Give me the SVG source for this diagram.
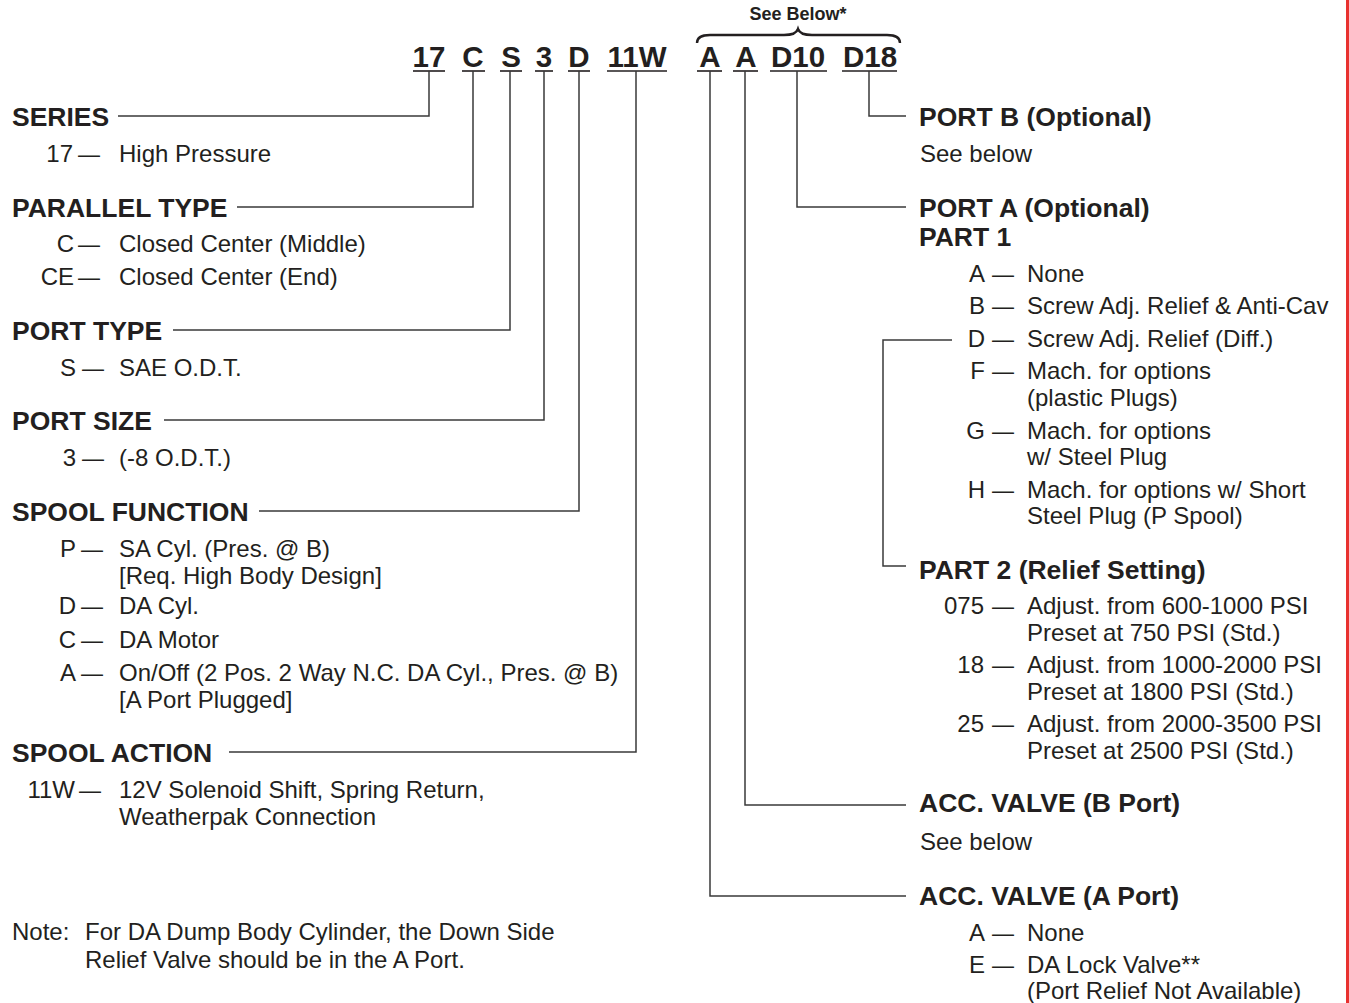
<svg xmlns="http://www.w3.org/2000/svg" width="1349" height="1003" viewBox="0 0 1349 1003">
<style>
text{font-family:"Liberation Sans",Arial,Helvetica,sans-serif;fill:#231f20}
.code{font-size:29.5px;font-weight:bold;text-anchor:middle}
.h{font-size:26.5px;font-weight:bold}
.b{font-size:24px}
.k{font-size:24px;text-anchor:end}
.d{font-size:22px;text-anchor:end}
.sb{font-size:18px;font-weight:bold;text-anchor:middle}
.ln{fill:none;stroke:#3a3a3a;stroke-width:1.5}
.ul{stroke:#231f20;stroke-width:1.6}
</style>
<rect width="1349" height="1003" fill="#fff"/>
<rect x="1346" y="0" width="3" height="1003" fill="#e8312f"/>
<g id="header">
<text class="sb" x="798" y="20">See Below*</text>
<path d="M697,43 Q697,35 710,35 L784,35 Q796,35 798,29 Q800,35 812,35 L887,35 Q900,35 900,43" fill="none" stroke="#231f20" stroke-width="2.4"/>
<text class="code" x="429" y="67">17</text>
<text class="code" x="473" y="67">C</text>
<text class="code" x="511" y="67">S</text>
<text class="code" x="544" y="67">3</text>
<text class="code" x="579" y="67">D</text>
<text class="code" x="637" y="67">11W</text>
<text class="code" x="710" y="67">A</text>
<text class="code" x="746" y="67">A</text>
<text class="code" x="798" y="67">D10</text>
<text class="code" x="870" y="67">D18</text>
<g class="ul">
<line x1="413" y1="71" x2="445" y2="71"/>
<line x1="462" y1="71" x2="485" y2="71"/>
<line x1="500" y1="71" x2="522" y2="71"/>
<line x1="535" y1="71" x2="553" y2="71"/>
<line x1="568" y1="71" x2="590" y2="71"/>
<line x1="607" y1="71" x2="667" y2="71"/>
<line x1="697" y1="71" x2="722" y2="71"/>
<line x1="733" y1="71" x2="758" y2="71"/>
<line x1="770" y1="71" x2="827" y2="71"/>
<line x1="842" y1="71" x2="897" y2="71"/>
</g>
</g>
<g id="connectors">
<polyline class="ln" points="429,71 429,116 118,116"/>
<polyline class="ln" points="473,71 473,207 237,207"/>
<polyline class="ln" points="510,71 510,330 173,330"/>
<polyline class="ln" points="544,71 544,420 164,420"/>
<polyline class="ln" points="579,71 579,511 259,511"/>
<polyline class="ln" points="636,71 636,752 229,752"/>
<polyline class="ln" points="869,71 869,116 906,116"/>
<polyline class="ln" points="797,71 797,207 906,207"/>
<polyline class="ln" points="745,71 745,805 906,805"/>
<polyline class="ln" points="710,71 710,896 906,896"/>
<polyline class="ln" points="952,340 883,340 883,566 906,566"/>
</g>
<g id="series">
<text class="h" x="12" y="126">SERIES</text>
<text class="k" x="73" y="162">17</text><text class="d" x="100" y="162">—</text><text class="b" x="119" y="162">High Pressure</text>
</g>
<g id="parallel-type">
<text class="h" x="12" y="217">PARALLEL TYPE</text>
<text class="k" x="74" y="252">C</text><text class="d" x="100" y="252">—</text><text class="b" x="119" y="252">Closed Center (Middle)</text>
<text class="k" x="74" y="285">CE</text><text class="d" x="100" y="285">—</text><text class="b" x="119" y="285">Closed Center (End)</text>
</g>
<g id="port-type">
<text class="h" x="12" y="340">PORT TYPE</text>
<text class="k" x="76" y="376">S</text><text class="d" x="104" y="376">—</text><text class="b" x="119" y="376">SAE O.D.T.</text>
</g>
<g id="port-size">
<text class="h" x="12" y="430">PORT SIZE</text>
<text class="k" x="76" y="466">3</text><text class="d" x="104" y="466">—</text><text class="b" x="119" y="466">(-8 O.D.T.)</text>
</g>
<g id="spool-function">
<text class="h" x="12" y="521">SPOOL FUNCTION</text>
<text class="k" x="76" y="557">P</text><text class="d" x="103" y="557">—</text><text class="b" x="119" y="557">SA Cyl. (Pres. @ B)</text>
<text class="b" x="119" y="584">[Req. High Body Design]</text>
<text class="k" x="76" y="614">D</text><text class="d" x="103" y="614">—</text><text class="b" x="119" y="614">DA Cyl.</text>
<text class="k" x="76" y="648">C</text><text class="d" x="103" y="648">—</text><text class="b" x="119" y="648">DA Motor</text>
<text class="k" x="76" y="681">A</text><text class="d" x="103" y="681">—</text><text class="b" x="119" y="681">On/Off (2 Pos. 2 Way N.C. DA Cyl., Pres. @ B)</text>
<text class="b" x="119" y="708">[A Port Plugged]</text>
</g>
<g id="spool-action">
<text class="h" x="12" y="762">SPOOL ACTION</text>
<text class="k" x="75" y="798">11W</text><text class="d" x="101" y="798">—</text><text class="b" x="119" y="798">12V Solenoid Shift, Spring Return,</text>
<text class="b" x="119" y="825">Weatherpak Connection</text>
</g>
<g id="note">
<text class="b" x="12" y="940">Note:</text><text class="b" x="85" y="940">For DA Dump Body Cylinder, the Down Side</text>
<text class="b" x="85" y="968">Relief Valve should be in the A Port.</text>
</g>
<g id="port-b">
<text class="h" x="919" y="126">PORT B (Optional)</text>
<text class="b" x="920" y="162">See below</text>
</g>
<g id="port-a">
<text class="h" x="919" y="217">PORT A (Optional)</text>
<text class="h" x="919" y="246">PART 1</text>
<text class="k" x="985" y="282">A</text><text class="d" x="1014" y="282">—</text><text class="b" x="1027" y="282">None</text>
<text class="k" x="985" y="314">B</text><text class="d" x="1014" y="314">—</text><text class="b" x="1027" y="314">Screw Adj. Relief &amp; Anti-Cav</text>
<text class="k" x="985" y="347">D</text><text class="d" x="1014" y="347">—</text><text class="b" x="1027" y="347">Screw Adj. Relief (Diff.)</text>
<text class="k" x="985" y="379">F</text><text class="d" x="1014" y="379">—</text><text class="b" x="1027" y="379">Mach. for options</text>
<text class="b" x="1027" y="406">(plastic Plugs)</text>
<text class="k" x="985" y="439">G</text><text class="d" x="1014" y="439">—</text><text class="b" x="1027" y="439">Mach. for options</text>
<text class="b" x="1027" y="465">w/ Steel Plug</text>
<text class="k" x="985" y="498">H</text><text class="d" x="1014" y="498">—</text><text class="b" x="1027" y="498">Mach. for options w/ Short</text>
<text class="b" x="1027" y="524">Steel Plug (P Spool)</text>
</g>
<g id="part-2">
<text class="h" x="919" y="579">PART 2 (Relief Setting)</text>
<text class="k" x="984" y="614">075</text><text class="d" x="1014" y="614">—</text><text class="b" x="1027" y="614">Adjust. from 600-1000 PSI</text>
<text class="b" x="1027" y="641">Preset at 750 PSI (Std.)</text>
<text class="k" x="984" y="673">18</text><text class="d" x="1014" y="673">—</text><text class="b" x="1027" y="673">Adjust. from 1000-2000 PSI</text>
<text class="b" x="1027" y="700">Preset at 1800 PSI (Std.)</text>
<text class="k" x="984" y="732">25</text><text class="d" x="1014" y="732">—</text><text class="b" x="1027" y="732">Adjust. from 2000-3500 PSI</text>
<text class="b" x="1027" y="759">Preset at 2500 PSI (Std.)</text>
</g>
<g id="acc-valve-b">
<text class="h" x="919" y="812">ACC. VALVE (B Port)</text>
<text class="b" x="920" y="850">See below</text>
</g>
<g id="acc-valve-a">
<text class="h" x="919" y="905">ACC. VALVE (A Port)</text>
<text class="k" x="985" y="941">A</text><text class="d" x="1014" y="941">—</text><text class="b" x="1027" y="941">None</text>
<text class="k" x="985" y="973">E</text><text class="d" x="1014" y="973">—</text><text class="b" x="1027" y="973">DA Lock Valve**</text>
<text class="b" x="1027" y="999">(Port Relief Not Available)</text>
</g>
</svg>
